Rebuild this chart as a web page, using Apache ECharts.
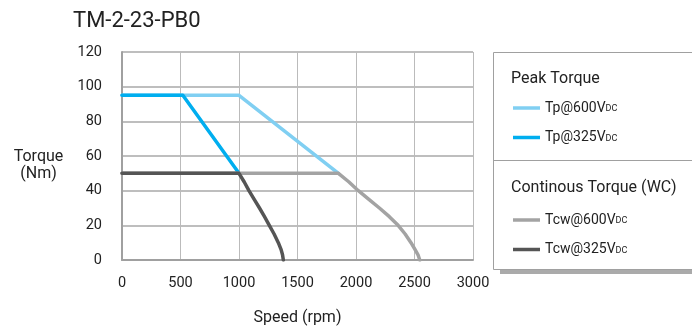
<!DOCTYPE html>
<html>
<head>
<meta charset="utf-8">
<script src="https://cdn.jsdelivr.net/npm/echarts@6/dist/echarts.min.js"></script>
<style>
html,body{margin:0;padding:0;background:#fff;}
#chart{width:692px;height:331px;}
</style>
</head>
<body>
<div id="chart"></div>
<script>
// ---- data (speed rpm, torque Nm) ----
var chartTitle = 'TM-2-23-PB0';
var xTicks = [0, 500, 1000, 1500, 2000, 2500, 3000];
var yTicks = [0, 20, 40, 60, 80, 100, 120];
var seriesNames = ['Tp@600VDC', 'Tp@325VDC', 'Tcw@600VDC', 'Tcw@325VDC'];
var tp600 = [[0, 95], [1000, 95], [1850, 50]];
var tp325 = [[0, 95], [520, 95], [1000, 50]];
var tcw600 = [[0, 50], [1850, 50], [1940, 45], [2020, 40], [2110, 35], [2200, 30], [2285, 25], [2360, 20], [2420, 15], [2470, 10], [2505, 6], [2530, 3], [2545, 0]];
var tcw325 = [[0, 50], [1000, 50], [1045, 45], [1085, 40], [1130, 35], [1175, 30], [1218, 25], [1259, 20], [1300, 15], [1336, 10], [1360, 6], [1372, 3], [1379, 0]];
var peakTitle = 'Peak Torque';
var contTitle = 'Continous Torque (WC)';
var yName = 'Torque\n(Nm)';
var xName = 'Speed (rpm)';

var FONT = 'Roboto';
var colors = ['#80cff2', '#00aeef', '#a3a3a3', '#555555'];
var dataSets = [tp600, tp325, tcw600, tcw325];

function fmt(name) { return name.replace('VDC', 'V{s|DC}'); }
var legendText = {
  fontFamily: FONT, fontSize: 14, color: '#222', lineHeight: 17,
  rich: { s: { fontFamily: FONT, fontSize: 9, color: '#222', lineHeight: 9, verticalAlign: 'bottom', padding: [0, 0, 3, 0] } }
};

var chart = echarts.init(document.getElementById('chart'), null, { renderer: 'canvas' });
chart.setOption({
  animation: false,
  backgroundColor: '#fff',
  title: {
    text: chartTitle, left: 73, top: 10, padding: 0,
    textStyle: { fontFamily: FONT, fontSize: 22, fontWeight: 'normal', color: '#222' }
  },
  grid: { left: 122, right: 219, top: 52, bottom: 67 },
  xAxis: {
    type: 'value', min: xTicks[0], max: xTicks[xTicks.length - 1], interval: xTicks[1] - xTicks[0],
    name: xName, nameLocation: 'middle', nameGap: 50,
    nameTextStyle: { fontFamily: FONT, fontSize: 16, color: '#222' },
    axisLine: { show: true, lineStyle: { color: '#a0a0a0', width: 2 } },
    axisTick: { show: false },
    axisLabel: { fontFamily: FONT, fontSize: 14.5, color: '#222', margin: 16, formatter: function (v) { return String(v); } },
    splitLine: { show: true, lineStyle: { color: '#bbbbbb', width: 1 } }
  },
  yAxis: {
    type: 'value', min: yTicks[0], max: yTicks[yTicks.length - 1], interval: yTicks[1] - yTicks[0],
    axisLine: { show: true, lineStyle: { color: '#a0a0a0', width: 2 } },
    axisTick: { show: false },
    axisLabel: { fontFamily: FONT, fontSize: 14.5, color: '#222', margin: 20 },
    splitLine: { show: true, lineStyle: { color: '#a8a8a8', width: 1.5 } }
  },
  legend: [
    {
      data: [seriesNames[0], seriesNames[1]], orient: 'vertical', left: 513, top: 99.5, padding: 0,
      icon: 'rect', itemWidth: 27, itemHeight: 3.5, itemGap: 12.5, z: 5,
      formatter: fmt, textStyle: legendText, selectedMode: false
    },
    {
      data: [seriesNames[2], seriesNames[3]], orient: 'vertical', left: 513, top: 211.5, padding: 0,
      icon: 'rect', itemWidth: 27, itemHeight: 3.5, itemGap: 12.5, z: 5,
      formatter: fmt, textStyle: legendText, selectedMode: false
    }
  ],
  graphic: [
    {
      type: 'rect', z: 0,
      shape: { x: 500, y: 60, width: 200, height: 214 },
      style: { fill: '#aaaaaa' }
    },
    {
      type: 'rect', z: 1,
      shape: { x: 493.5, y: 52.5, width: 230, height: 217 },
      style: { fill: '#fff', stroke: '#a0a0a0', lineWidth: 1 }
    },
    {
      type: 'line', z: 2,
      shape: { x1: 493, y1: 160.5, x2: 692, y2: 160.5 },
      style: { stroke: '#a0a0a0', lineWidth: 1 }
    },
    {
      type: 'text', z: 3, x: 511, y: 78.5,
      style: { text: peakTitle, font: '16px ' + FONT, fill: '#222', verticalAlign: 'middle' }
    },
    {
      type: 'text', z: 3, x: 511, y: 188,
      style: { text: contTitle, font: '16px ' + FONT, fill: '#222', verticalAlign: 'middle' }
    },
    {
      type: 'text', z: 3, x: 38.5, y: 165,
      style: { text: yName, font: '16px ' + FONT, fill: '#222', align: 'center', verticalAlign: 'middle', lineHeight: 17 }
    }
  ],
  series: seriesNames.map(function (n, i) {
    return {
      name: n, type: 'line', data: dataSets[i], showSymbol: false, symbol: 'none',
      color: colors[i],
      lineStyle: { color: colors[i], width: 3.5, cap: 'round', join: 'round' },
      z: 3 + i
    };
  })
});
</script>
</body>
</html>
